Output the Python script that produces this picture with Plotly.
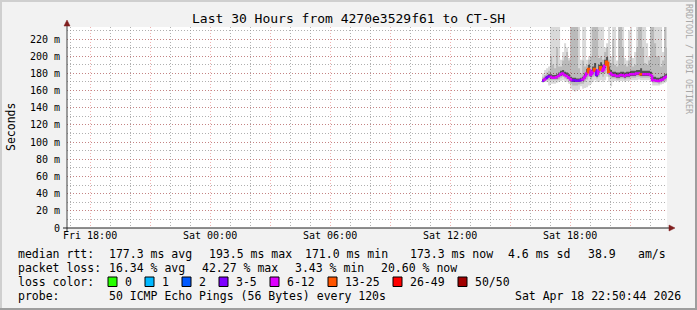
import pandas as pd
import plotly.graph_objects as go

# ---------------- data ----------------
title_text = "Last 30 Hours from 4270e3529f61 to CT-SH"
y_title = "Seconds"
watermark = "RRDTOOL / TOBI OETIKER"
window_start = "2026-04-17 16:50:44"
window_end = "2026-04-18 22:50:44"
first_tick = "2026-04-17 18:00:00"
data_start = "2026-04-18 16:36:00"
step_minutes = 6

y_tick_values = [0, 20, 40, 60, 80, 100, 120, 140, 160, 180, 200, 220]
y_tick_labels = ["0", "20 m", "40 m", "60 m", "80 m", "100 m", "120 m",
                 "140 m", "160 m", "180 m", "200 m", "220 m"]
y_top = 234

median_ms = [171.5, 173, 175, 176.5, 176, 175, 175, 175.5, 177, 179, 180, 178, 177, 175, 173,
             172, 172, 171.5, 171.5, 172, 173, 176, 180, 185, 178, 182, 185, 178, 183, 187,
             183, 189, 193.5, 182, 180, 178, 178, 177, 177, 178, 178, 177, 178, 178, 179,
             179, 179, 180, 180, 179, 179, 179, 179, 179, 178, 172, 172, 171.5, 171, 172,
             173, 175, 176]
loss_count = [4, 8, 4, 4, 8, 8, 8, 8, 8, 8, 8, 8, 8, 8, 8, 4, 4, 4, 4, 4, 8, 8, 8,
              15, 8, 8, 15, 4, 8, 15, 8, 8, 15, 15, 8, 8, 8, 8, 8, 8, 8, 8, 8, 8, 8,
              8, 8, 8, 8, 15, 8, 8, 8, 8, 8, 8, 8, 8, 8, 8, 8, 8, 8]
ping_min = [169, 170, 170, 166, 168, 168, 168, 169, 170, 171, 172, 170, 170, 168, 162,
            160, 159, 160, 161, 165, 162, 163, 164, 166, 168, 170, 172, 170, 170, 172,
            170, 172, 176, 170, 165, 170, 171, 171, 170, 171, 171, 170, 171, 171, 172,
            172, 172, 172, 173, 172, 172, 172, 172, 172, 171, 166, 166, 166, 166, 167,
            168, 169, 170]
ping_p10 = [170, 171, 172, 172, 172, 172, 172, 172, 173, 175, 176, 174, 173, 171, 168,
            166, 166, 166, 167, 168, 168, 170, 173, 176, 173, 176, 178, 174, 176, 179,
            176, 180, 184, 176, 174, 174, 174, 173, 173, 174, 174, 173, 174, 174, 175,
            175, 175, 176, 176, 175, 175, 175, 175, 175, 174, 169, 169, 169, 168, 169,
            170, 171, 172]
ping_p25 = [171, 172, 174, 175, 174, 174, 174, 174, 176, 177, 178, 177, 176, 174, 171,
            170, 170, 170, 170, 171, 171, 174, 178, 182, 176, 180, 182, 176, 181, 184,
            181, 186, 190, 180, 178, 176, 176, 175, 175, 176, 176, 175, 176, 176, 177,
            177, 177, 178, 178, 177, 177, 177, 177, 177, 176, 171, 171, 170, 170, 171,
            172, 174, 175]
ping_p75 = [173, 175, 177, 179, 179, 178, 178, 179, 181, 183, 184, 182, 181, 179, 176,
            175, 175, 174, 174, 175, 176, 180, 185, 190, 184, 188, 192, 184, 190, 193,
            190, 196, 199, 188, 184, 182, 182, 181, 181, 182, 182, 181, 182, 182, 183,
            183, 183, 184, 184, 186, 183, 183, 183, 183, 182, 176, 176, 175, 175, 176,
            177, 179, 180]
ping_p90 = [176, 178, 181, 183, 200, 190, 186, 210, 188, 188, 195, 200, 205, 195, 300,
            300, 300, 300, 186, 180, 195, 188, 190, 196, 200, 300, 300, 300, 198, 200,
            196, 205, 210, 196, 192, 220, 190, 188, 300, 300, 210, 190, 188, 195, 200,
            188, 190, 210, 300, 300, 210, 192, 190, 195, 300, 300, 215, 200, 200, 188,
            195, 300, 210]
ping_max = [180, 184, 186, 188, 300, 260, 300, 300, 290, 196, 205, 215, 210, 198, 300,
            300, 300, 300, 280, 196, 300, 270, 196, 200, 300, 300, 300, 300, 280, 300,
            300, 210, 215, 300, 200, 300, 260, 195, 300, 300, 300, 198, 195, 230, 300,
            198, 205, 300, 300, 300, 300, 290, 215, 200, 300, 300, 300, 300, 280, 250,
            205, 300, 300]

loss_low = [0, 1, 2, 3, 6, 13, 26, 50]
loss_high = [0, 1, 2, 5, 12, 25, 49, 50]
loss_labels = ["0", "1", "2", "3-5", "6-12", "13-25", "26-49", "50/50"]
loss_colors = ["#26ff00", "#00b8ff", "#0059ff", "#7e00ff", "#dd00ff", "#ff5500", "#ff0000", "#a10000"]

rtt_items = ["median rtt:", "177.3 ms avg", "193.5 ms max", "171.0 ms min",
             "173.3 ms now", "4.6 ms sd", "38.9", "am/s"]
loss_items = ["packet loss:", "16.34 % avg", "42.27 % max", "3.43 % min", "20.60 % now"]
probe_items = ["probe:", "50 ICMP Echo Pings (56 Bytes) every 120s", "Sat Apr 18 22:50:44 2026"]
loss_color_title = "loss color:"

# ---------------- layout geometry (pixels) ----------------
W, H = 697, 310
ML, MR, MT, MB = 67, 30, 27, 82
PW = W - ML - MR
PH = H - MT - MB
BOTTOM = H - MB
MONO = "DejaVu Sans Mono"


def px(x):
    return (x - ML) / PW


def py(y):
    return (BOTTOM - y) / PH


step = pd.Timedelta(minutes=step_minutes)
times = [pd.Timestamp(data_start) + i * step for i in range(len(median_ms))]
xs = times + [times[-1] + step]


def ext(v):
    return list(v) + [v[-1]]


fig = go.Figure()

# smoke bands
bands = [(ping_min, ping_max, "rgba(0,0,0,0.15)"),
         (ping_p10, ping_p90, "rgba(0,0,0,0.14)"),
         (ping_p25, ping_p75, "rgba(0,0,0,0.55)")]
for lo, hi, col in bands:
    fig.add_trace(go.Scatter(x=xs, y=ext(lo), mode="lines", line=dict(width=0, shape="hv"),
                             hoverinfo="skip", showlegend=False))
    fig.add_trace(go.Scatter(x=xs, y=ext(hi), mode="lines", line=dict(width=0, shape="hv"),
                             fill="tonexty", fillcolor=col, hoverinfo="skip", showlegend=False))

# median line coloured by loss
for lo_b, hi_b, col in zip(loss_low, loss_high, loss_colors):
    sx, sy = [], []
    for i, (t, m, lc) in enumerate(zip(times, median_ms, loss_count)):
        if lo_b <= lc <= hi_b:
            prev = median_ms[i - 1] if i > 0 else m
            sx += [t, t, t + step, None]
            sy += [prev, m, m, None]
    if sx:
        fig.add_trace(go.Scatter(x=sx, y=sy, mode="lines", line=dict(color=col, width=2.5),
                                 hoverinfo="skip", showlegend=False))

grid_minor = "rgba(143,143,143,0.7)"
grid_major = "rgba(222,79,79,0.45)"
dash = "1px,2px"

fig.update_layout(
    width=W, height=H, autosize=False,
    margin=dict(l=ML, r=MR, t=MT, b=MB, pad=0),
    paper_bgcolor="#f2f2f2", plot_bgcolor="#ffffff",
    showlegend=False,
    font=dict(family=MONO, color="#000000"),
    xaxis=dict(type="date", range=[window_start, window_end],
               tickmode="linear", tick0=first_tick, dtick=3 * 3600 * 1000, ticklabelstep=2,
               tickformat="%a %H:%M", tickfont=dict(family=MONO, size=10, color="#000"),
               showgrid=True, gridcolor=grid_major, gridwidth=1, griddash=dash,
               minor=dict(tickmode="linear", tick0=first_tick, dtick=3600 * 1000,
                          showgrid=True, gridcolor=grid_minor, gridwidth=1, griddash=dash),
               zeroline=False, showline=False, ticks="", fixedrange=True),
    yaxis=dict(range=[0, y_top], tickmode="array", tickvals=y_tick_values, ticktext=y_tick_labels,
               tickfont=dict(family=MONO, size=10, color="#000"),
               showgrid=True, gridcolor=grid_major, gridwidth=1, griddash=dash,
               minor=dict(tickmode="linear", tick0=0, dtick=10, showgrid=True,
                          gridcolor=grid_minor, gridwidth=1, griddash=dash),
               zeroline=False, showline=False, ticks="", ticklabelstandoff=6, fixedrange=True),
)

shapes = []
# frame shading
shapes.append(dict(type="rect", xref="paper", yref="paper", x0=px(0), x1=px(W), y0=py(0), y1=py(2),
                   fillcolor="#cfcfcf", line_width=0, layer="below"))
shapes.append(dict(type="rect", xref="paper", yref="paper", x0=px(0), x1=px(2), y0=py(0), y1=py(H),
                   fillcolor="#cfcfcf", line_width=0, layer="below"))
shapes.append(dict(type="rect", xref="paper", yref="paper", x0=px(0), x1=px(W), y0=py(H - 2), y1=py(H),
                   fillcolor="#9e9e9e", line_width=0, layer="below"))
shapes.append(dict(type="rect", xref="paper", yref="paper", x0=px(W - 2), x1=px(W), y0=py(0), y1=py(H),
                   fillcolor="#9e9e9e", line_width=0, layer="below"))
# axes
shapes.append(dict(type="line", xref="paper", yref="paper", x0=px(67), x1=px(67), y0=py(BOTTOM + 3), y1=py(24),
                   line=dict(color="#404040", width=1)))
shapes.append(dict(type="line", xref="paper", yref="paper", x0=px(63), x1=px(671), y0=py(BOTTOM), y1=py(BOTTOM),
                   line=dict(color="#1f1f1f", width=1)))
shapes.append(dict(type="path", xref="paper", yref="paper",
                   path=f"M {px(64)} {py(26)} L {px(70)} {py(26)} L {px(67)} {py(20)} Z",
                   fillcolor="#801f1f", line=dict(color="#801f1f", width=0.5)))
shapes.append(dict(type="path", xref="paper", yref="paper",
                   path=f"M {px(669)} {py(BOTTOM - 3)} L {px(669)} {py(BOTTOM + 3)} L {px(675)} {py(BOTTOM)} Z",
                   fillcolor="#801f1f", line=dict(color="#801f1f", width=0.5)))

annotations = []


def text_at(x, y, s, size=11.5, color="#000", anchor="left", angle=0):
    annotations.append(dict(text=s, xref="paper", yref="paper", x=px(x), y=py(y),
                            xanchor=anchor, yanchor="middle", showarrow=False, textangle=angle,
                            font=dict(family=MONO, size=size, color=color)))


text_at(W / 2, 19, title_text, size=13, anchor="center")
text_at(11, 127, y_title, size=11.5, anchor="center", angle=-90)
text_at(689, 59, watermark, size=8.3, color="#a8a8a8", anchor="center", angle=90)

rtt_x = [16, 107, 207, 303, 408, 506, 586, 636]
for x, s in zip(rtt_x, rtt_items):
    text_at(x, 254, s)
loss_x = [16, 107, 200, 293, 379]
for x, s in zip(loss_x, loss_items):
    text_at(x, 268, s)
text_at(16, 282, loss_color_title)
box_x = [108, 145, 182, 219, 270, 328, 393, 458]
for bx, lab, col in zip(box_x, loss_labels, loss_colors):
    shapes.append(dict(type="rect", xref="paper", yref="paper", x0=px(bx), x1=px(bx + 9),
                       y0=py(277), y1=py(286.5), fillcolor=col, line=dict(color="#000", width=1)))
    text_at(bx + 15, 282, lab)
probe_x = [16, 107, 513]
for x, s in zip(probe_x, probe_items):
    text_at(x, 296, s)

fig.update_layout(shapes=shapes, annotations=annotations)
fig.write_html("out.html")
